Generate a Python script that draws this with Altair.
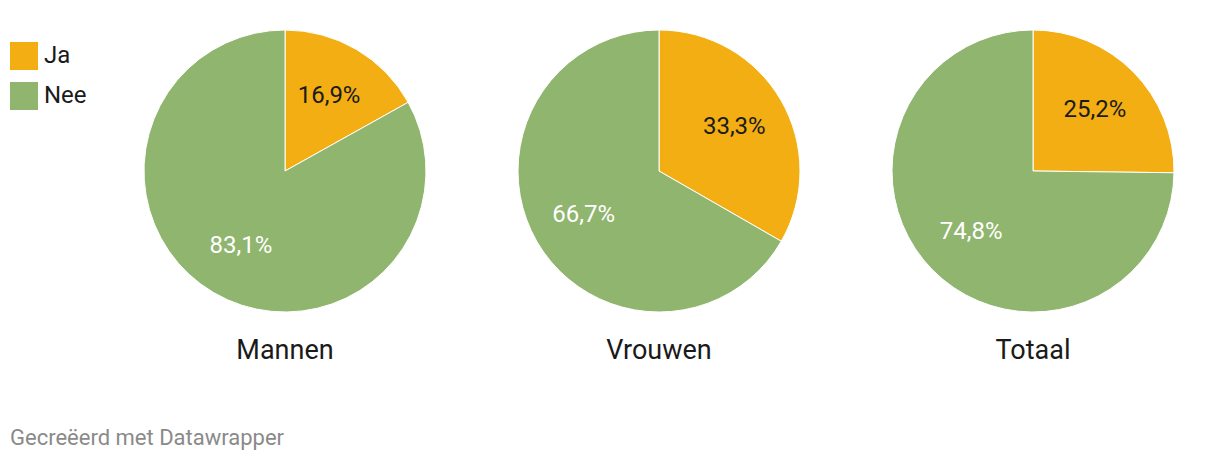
import altair as alt
import pandas as pd

groups = ["Mannen", "Vrouwen", "Totaal"]
answers = ["Ja", "Nee"]
ja_values = [16.9, 33.3, 25.2]
nee_values = [83.1, 66.7, 74.8]
colors = ["#f2ae12", "#90b56e"]
label_colors = ["#1a1a1a", "#ffffff"]

rows = []
for g, ja, nee in zip(groups, ja_values, nee_values):
    rows.append({"group": g, "answer": "Ja", "order": 0, "value": ja,
                 "label": f"{ja:.1f}".replace(".", ",") + "%"})
    rows.append({"group": g, "answer": "Nee", "order": 1, "value": nee,
                 "label": f"{nee:.1f}".replace(".", ",") + "%"})
df = pd.DataFrame(rows)

FONT = "Roboto"

base = alt.Chart(df).transform_window(
    end="sum(value)", groupby=["group"], sort=[{"field": "order"}], frame=[None, 0]
).transform_calculate(
    start="datum.end - datum.value",
    mid="datum.end - datum.value / 2",
)

xenc = alt.X("group:N", scale=alt.Scale(type="point", domain=groups, range=[277, 1025], padding=0), axis=None)
theta_scale = alt.Scale(domain=[0, 100], range=[0, 6.283185307179586])

arcs = base.mark_arc(outerRadius=141, stroke="white", strokeWidth=1).encode(
    x=xenc,
    y=alt.value(163),
    theta=alt.Theta("start:Q", scale=theta_scale, stack=False),
    theta2="end:Q",
    color=alt.Color(
        "answer:N",
        scale=alt.Scale(domain=answers, range=colors),
        legend=alt.Legend(
            title=None, orient="none", legendX=2, legendY=34,
            symbolType="square", symbolSize=784, symbolStrokeWidth=0,
            symbolOpacity=1, labelFont=FONT, labelFontSize=24,
            labelColor="#1a1a1a", labelOffset=6, rowPadding=12,
        ),
    ),
)

labels = base.mark_text(radius=87, font=FONT, fontSize=24, align="center", baseline="middle").encode(
    x=xenc,
    y=alt.value(163),
    theta=alt.Theta("mid:Q", scale=theta_scale, stack=False),
    text="label:N",
)

labels_ja = labels.transform_filter("datum.answer == 'Ja'").encode(color=alt.value(label_colors[0]))
labels_nee = labels.transform_filter("datum.answer == 'Nee'").encode(color=alt.value(label_colors[1]))

titles_df = pd.DataFrame({"group": groups})
titles = alt.Chart(titles_df).mark_text(font=FONT, fontSize=27, color="#1a1a1a", baseline="middle").encode(
    x=alt.X("group:N", scale=alt.Scale(type="point", domain=groups, range=[277, 1025], padding=0), axis=None),
    y=alt.value(343),
    text="group:N",
)

footer = alt.Chart(pd.DataFrame({"t": ["Gecreëerd met Datawrapper"]})).mark_text(
    font=FONT, fontSize=22, color="#8a8a8a", align="left", baseline="middle"
).encode(x=alt.value(2), y=alt.value(430), text="t:N")

chart = alt.layer(arcs, labels_ja, labels_nee, titles, footer).properties(
    width=1204, height=446, padding=0,
    autosize=alt.AutoSizeParams(type="none"),
).configure_view(stroke=None)

chart.save("out.html", embed_options={"renderer": "svg", "actions": False})
